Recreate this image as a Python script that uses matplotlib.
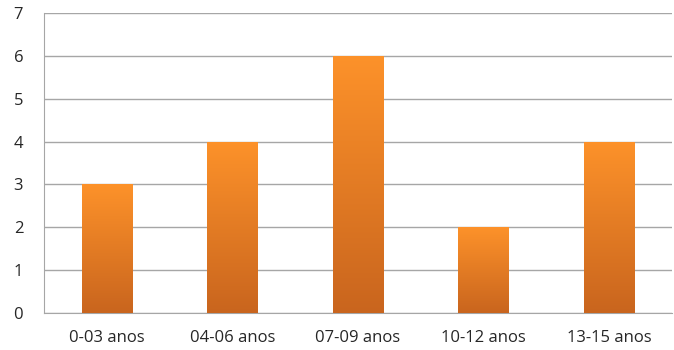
import numpy as np
import matplotlib
matplotlib.use("Agg")
import matplotlib.pyplot as plt
from matplotlib.colors import LinearSegmentedColormap

categories = ["0-03 anos", "04-06 anos", "07-09 anos", "10-12 anos", "13-15 anos"]
values = [3, 4, 6, 2, 4]

plt.rcParams['font.family'] = ['Open Sans', 'DejaVu Sans']

fig = plt.figure(figsize=(6.74, 3.5), dpi=100)
ax = fig.add_axes([0.0653, 0.1057, 0.9317, 0.8573])

x = np.arange(len(categories))
bars = ax.bar(x, values, width=0.4, color="none", zorder=3)

# orange gradient, light at top, darker at bottom
cmap = LinearSegmentedColormap.from_list("og", ["#c9651e", "#fd922a"])
grad = np.linspace(0, 1, 256).reshape(-1, 1)
for b in bars:
    x0, y0 = b.get_x(), b.get_y()
    w, h = b.get_width(), b.get_height()
    im = ax.imshow(grad, cmap=cmap, aspect="auto", origin="lower",
                   extent=[x0, x0 + w, y0, y0 + h], zorder=3)
    im.set_clip_path(b)

ax.set_xlim(-0.5, len(categories) - 0.5)
ax.set_ylim(0, 7)
ax.set_yticks(range(0, 8))
ax.set_xticks(x)
ax.set_xticklabels(categories)

ax.yaxis.grid(True, color="#a6a6a6", linewidth=1.0, zorder=0)
ax.set_axisbelow(True)
for s in ["top", "right"]:
    ax.spines[s].set_visible(False)
ax.spines["left"].set_color("#a6a6a6")
ax.spines["bottom"].set_color("#a6a6a6")
ax.tick_params(axis="both", length=0, labelsize=12, colors="#262626")
ax.tick_params(axis="y", pad=15)
ax.tick_params(axis="x", pad=12)

fig.savefig("out.png", dpi=100)
